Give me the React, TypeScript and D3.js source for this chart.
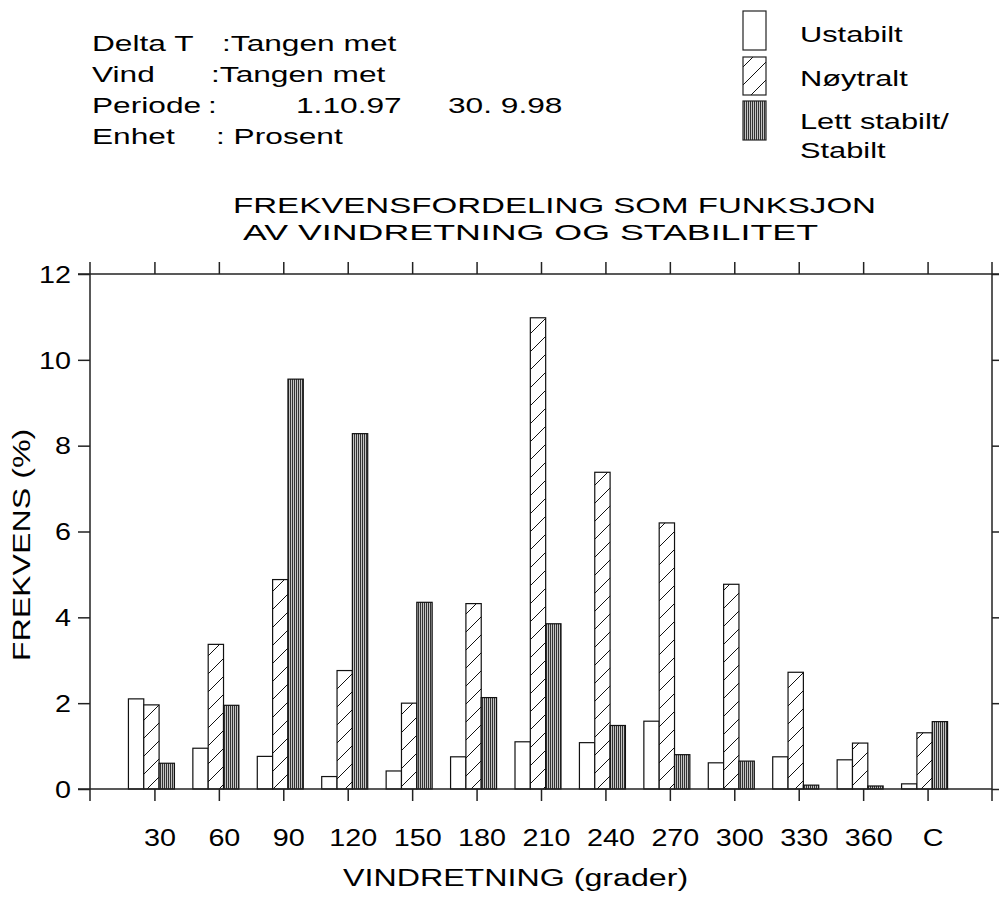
import React, { useEffect, useRef } from 'react';
import * as d3 from 'd3';

const categories = ['30', '60', '90', '120', '150', '180', '210', '240', '270', '300', '330', '360', 'C'];
const series = ['Ustabilt', 'Nøytralt', 'Lett stabilt'];
const ustabilt = [2.1, 0.95, 0.76, 0.29, 0.42, 0.75, 1.1, 1.08, 1.58, 0.61, 0.75, 0.68, 0.12];
const noytralt = [1.96, 3.37, 4.88, 2.76, 2.0, 4.32, 10.98, 7.38, 6.2, 4.77, 2.72, 1.07, 1.31];
const stabilt = [0.6, 1.95, 9.55, 8.28, 4.35, 2.13, 3.85, 1.48, 0.8, 0.65, 0.09, 0.07, 1.57];
const yTicks = [0, 2, 4, 6, 8, 10, 12];

const width = 999;
const height = 897;
const margin = { top: 274, right: 7, bottom: 108, left: 90 };
const font = '"Liberation Sans", Arial, Helvetica, sans-serif';
const stretch = 1.4;

function App() {
  const ref = useRef<SVGSVGElement>(null);

  useEffect(() => {
    const svg = d3.select(ref.current);
    svg.selectAll('*').remove();

    const x = d3
      .scalePoint()
      .domain(categories)
      .range([margin.left, width - margin.right])
      .padding(1);
    const xs = d3.scaleBand().domain(series).range([-26, 20]);
    const y = d3.scaleLinear().domain([0, 12]).range([height - margin.bottom, margin.top]);

    const defs = svg.append('defs');
    const hatch = defs
      .append('pattern')
      .attr('id', 'hatch')
      .attr('patternUnits', 'userSpaceOnUse')
      .attr('width', 18)
      .attr('height', 18);
    hatch.append('rect').attr('width', 18).attr('height', 18).attr('fill', 'white');
    hatch
      .append('path')
      .attr('d', 'M0,18 L18,0 M-2,2 L2,-2 M16,20 L20,16')
      .attr('stroke', '#111')
      .attr('stroke-width', 1);
    const vert = defs
      .append('pattern')
      .attr('id', 'vert')
      .attr('patternUnits', 'userSpaceOnUse')
      .attr('width', 2)
      .attr('height', 4);
    vert.append('rect').attr('width', 2).attr('height', 4).attr('fill', '#c4c4c4');
    vert.append('rect').attr('width', 1).attr('height', 4).attr('fill', '#333');

    const fills = ['white', 'url(#hatch)', 'url(#vert)'];
    const values = [ustabilt, noytralt, stabilt];

    // stretched text helper
    const text = (
      tx: number,
      ty: number,
      s: string,
      size = 22,
      anchor = 'start',
      sx = stretch,
      rot = 0
    ) =>
      svg
        .append('text')
        .attr('transform', `translate(${tx},${ty}) rotate(${rot}) scale(${sx},1)`)
        .attr('font-family', font)
        .attr('font-size', size)
        .attr('text-anchor', anchor)
        .attr('fill', '#000')
        .text(s);

    // header
    const hs = 1.44;
    text(92, 51, 'Delta T', 22, 'start', hs);
    text(222, 51, ':Tangen met', 22, 'start', hs);
    text(92, 82, 'Vind', 22, 'start', hs);
    text(211, 82, ':Tangen met', 22, 'start', hs);
    text(92, 113, 'Periode', 22, 'start', hs);
    text(208, 113, ':', 22, 'start', hs);
    text(296, 113, '1.10.97', 22, 'start', hs);
    text(448, 113, '30. 9.98', 22, 'start', hs);
    text(92, 144, 'Enhet', 22, 'start', hs);
    text(216, 144, ': Prosent', 22, 'start', hs);

    // legend
    const legendY = [11, 57, 101];
    const legendH = [39, 38, 39];
    series.forEach((s, i) => {
      svg
        .append('rect')
        .attr('x', 743)
        .attr('y', legendY[i])
        .attr('width', 23)
        .attr('height', legendH[i])
        .attr('fill', fills[i])
        .attr('stroke', '#222')
        .attr('stroke-width', 1.2);
    });
    text(800, 42, 'Ustabilt');
    text(800, 86, 'Nøytralt');
    text(800, 129, 'Lett stabilt/');
    text(800, 158, 'Stabilt');

    // title
    const title = (tx: number, ty: number, s: string, len: number) =>
      svg
        .append('text')
        .attr('x', tx)
        .attr('y', ty)
        .attr('font-family', font)
        .attr('font-size', 22)
        .attr('textLength', len)
        .attr('lengthAdjust', 'spacingAndGlyphs')
        .text(s);
    title(233, 213, 'FREKVENSFORDELING SOM FUNKSJON', 643);
    title(243, 240, 'AV VINDRETNING OG STABILITET', 575);

    // bars
    const g = svg.append('g');
    categories.forEach((c, ci) => {
      series.forEach((s, si) => {
        const v = values[si][ci];
        g.append('rect')
          .attr('x', (x(c) as number) + (xs(s) as number))
          .attr('y', y(v))
          .attr('width', xs.bandwidth())
          .attr('height', y(0) - y(v))
          .attr('fill', fills[si])
          .attr('stroke', '#111')
          .attr('stroke-width', 1.2);
      });
    });

    // frame lines, extended past corners
    const tk = 12;
    const [x0, x1] = [margin.left, width - margin.right];
    const frame = [
      [x0, y(12) - tk, x0, y(0) + tk],
      [x1, y(12) - tk, x1, y(0) + tk],
      [x0 - tk, y(12), x1 + tk, y(12)],
      [x0 - tk, y(0), x1, y(0)],
    ];
    frame.forEach(([a, b, c, d]) =>
      svg
        .append('line')
        .attr('x1', a)
        .attr('y1', b)
        .attr('x2', c)
        .attr('y2', d)
        .attr('stroke', '#222')
        .attr('stroke-width', 1.5)
    );

    const styleAxis = (sel: d3.Selection<SVGGElement, unknown, null, undefined>) => {
      sel.select('.domain').remove();
      sel.selectAll('line').attr('stroke', '#222').attr('stroke-width', 1.5);
    };

    const yAxis = svg
      .append('g')
      .attr('transform', `translate(${x0},0)`)
      .call(d3.axisLeft(y).tickValues(yTicks).tickSize(tk).tickSizeOuter(0))
      .call(styleAxis);
    yAxis
      .selectAll('text')
      .attr('font-family', font)
      .attr('font-size', 23)
      .attr('fill', '#000')
      .attr('x', -19 / 1.25)
      .attr('dy', '0.36em')
      .attr('transform', 'scale(1.25,1)');

    svg
      .append('g')
      .attr('transform', `translate(${x1},0)`)
      .call(d3.axisRight(y).tickValues(yTicks).tickSize(tk).tickFormat(() => '').tickSizeOuter(0))
      .call(styleAxis);

    svg
      .append('g')
      .attr('transform', `translate(0,${y(12)})`)
      .call(d3.axisTop(x).tickSize(tk).tickFormat(() => '').tickSizeOuter(0))
      .call(styleAxis);

    const xAxis = svg
      .append('g')
      .attr('transform', `translate(0,${y(0)})`)
      .call(d3.axisBottom(x).tickSize(tk).tickSizeOuter(0))
      .call(styleAxis);
    xAxis
      .selectAll('text')
      .attr('font-family', font)
      .attr('font-size', 23)
      .attr('fill', '#000')
      .attr('y', 57)
      .attr('dy', 0)
      .attr('x', 5 / 1.25)
      .attr('transform', 'scale(1.25,1)');

    // axis titles
    text(343, 886, 'VINDRETNING (grader)', 23);
    text(30, 545, 'FREKVENS (%)', 23, 'middle', stretch, -90);
  }, []);

  return (
    <svg
      ref={ref}
      width={width}
      height={height}
      style={{ position: 'absolute', left: 0, top: 0, background: 'white' }}
    />
  );
}

export default App;
